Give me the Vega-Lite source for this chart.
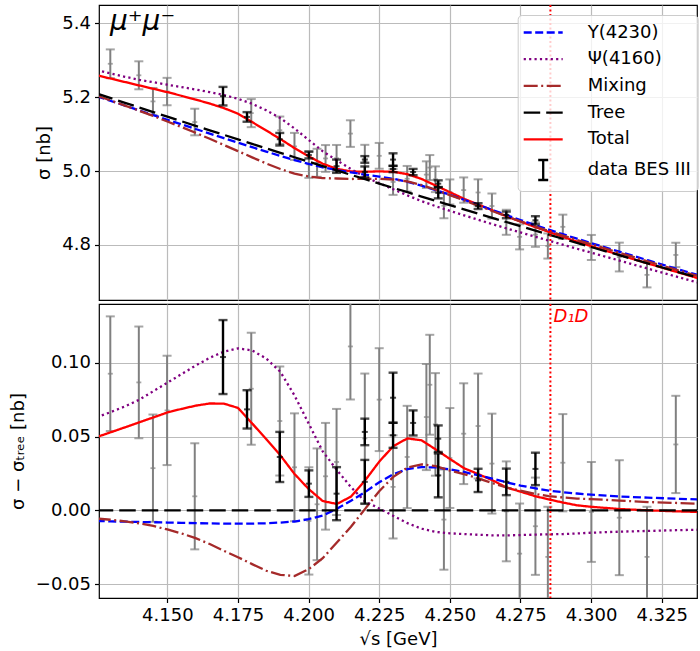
{
"$schema": "https://vega.github.io/schema/vega-lite/v6.json",
"padding": {"left": 8, "top": 3, "right": 0, "bottom": 0},
"spacing": 0,
"config": {
 "font": "DejaVu Sans",
 "view": {"stroke": "#000000", "strokeWidth": 1.2},
 "axis": {"domain": false, "gridColor": "#bbbbbb", "gridWidth": 1.2, "labelFontSize": 18, "titleFontSize": 18, "titleFontWeight": "normal", "labelColor": "#000000", "titleColor": "#000000", "tickColor": "#000000", "tickSize": 4.5, "tickWidth": 1.2, "labelPadding": 4}
},
"datasets": {
 "thr": [{"s": 4.2856, "label": "D₁D"}],
 "proc": [{"label": "μ⁺μ⁻"}],
 "curves": [
{"s":4.125,"c":"Total","t":5.2597,"d":0.0497},{"s":4.130,"c":"Total","t":5.2503,"d":0.0530},{"s":4.135,"c":"Total","t":5.2411,"d":0.0563},{"s":4.140,"c":"Total","t":5.2319,"d":0.0597},{"s":4.145,"c":"Total","t":5.2228,"d":0.0630},{"s":4.150,"c":"Total","t":5.2137,"d":0.0664},{"s":4.155,"c":"Total","t":5.2038,"d":0.0688},{"s":4.160,"c":"Total","t":5.1936,"d":0.0710},{"s":4.165,"c":"Total","t":5.1828,"d":0.0725},{"s":4.170,"c":"Total","t":5.1705,"d":0.0724},{"s":4.175,"c":"Total","t":5.1554,"d":0.0695},{"s":4.180,"c":"Total","t":5.1327,"d":0.0590},{"s":4.185,"c":"Total","t":5.1099,"d":0.0483},{"s":4.190,"c":"Total","t":5.0868,"d":0.0373},{"s":4.195,"c":"Total","t":5.0622,"d":0.0247},{"s":4.200,"c":"Total","t":5.0400,"d":0.0145},{"s":4.205,"c":"Total","t":5.0199,"d":0.0063},{"s":4.210,"c":"Total","t":5.0060,"d":0.0043},{"s":4.215,"c":"Total","t":4.9991,"d":0.0093},{"s":4.220,"c":"Total","t":4.9983,"d":0.0203},{"s":4.225,"c":"Total","t":4.9992,"d":0.0330},{"s":4.230,"c":"Total","t":4.9981,"d":0.0436},{"s":4.235,"c":"Total","t":4.9916,"d":0.0488},{"s":4.240,"c":"Total","t":4.9786,"d":0.0475},{"s":4.245,"c":"Total","t":4.9608,"d":0.0413},{"s":4.250,"c":"Total","t":4.9429,"d":0.0349},{"s":4.255,"c":"Total","t":4.9250,"d":0.0286},{"s":4.260,"c":"Total","t":4.9095,"d":0.0246},{"s":4.265,"c":"Total","t":4.8940,"d":0.0205},{"s":4.270,"c":"Total","t":4.8776,"d":0.0155},{"s":4.275,"c":"Total","t":4.8634,"d":0.0127},{"s":4.280,"c":"Total","t":4.8491,"d":0.0097},{"s":4.285,"c":"Total","t":4.8355,"d":0.0074},{"s":4.290,"c":"Total","t":4.8221,"d":0.0053},{"s":4.295,"c":"Total","t":4.8090,"d":0.0034},{"s":4.300,"c":"Total","t":4.7969,"d":0.0024},{"s":4.310,"c":"Total","t":4.7732,"d":0.0009},{"s":4.320,"c":"Total","t":4.7502,"d":0.0000},{"s":4.330,"c":"Total","t":4.7276,"d":-0.0007},{"s":4.340,"c":"Total","t":4.7054,"d":-0.0012},
{"s":4.125,"c":"Ψ(4160)","t":5.2732,"d":0.0632},{"s":4.130,"c":"Ψ(4160)","t":5.2640,"d":0.0667},{"s":4.135,"c":"Ψ(4160)","t":5.2553,"d":0.0705},{"s":4.140,"c":"Ψ(4160)","t":5.2472,"d":0.0750},{"s":4.145,"c":"Ψ(4160)","t":5.2406,"d":0.0808},{"s":4.150,"c":"Ψ(4160)","t":5.2339,"d":0.0866},{"s":4.155,"c":"Ψ(4160)","t":5.2274,"d":0.0924},{"s":4.160,"c":"Ψ(4160)","t":5.2208,"d":0.0982},{"s":4.165,"c":"Ψ(4160)","t":5.2138,"d":0.1035},{"s":4.170,"c":"Ψ(4160)","t":5.2057,"d":0.1076},{"s":4.175,"c":"Ψ(4160)","t":5.1958,"d":0.1099},{"s":4.180,"c":"Ψ(4160)","t":5.1822,"d":0.1085},{"s":4.185,"c":"Ψ(4160)","t":5.1646,"d":0.1030},{"s":4.190,"c":"Ψ(4160)","t":5.1435,"d":0.0940},{"s":4.195,"c":"Ψ(4160)","t":5.1155,"d":0.0780},{"s":4.200,"c":"Ψ(4160)","t":5.0845,"d":0.0590},{"s":4.205,"c":"Ψ(4160)","t":5.0536,"d":0.0400},{"s":4.210,"c":"Ψ(4160)","t":5.0291,"d":0.0274},{"s":4.215,"c":"Ψ(4160)","t":5.0055,"d":0.0157},{"s":4.220,"c":"Ψ(4160)","t":4.9840,"d":0.0060},{"s":4.225,"c":"Ψ(4160)","t":4.9675,"d":0.0013},{"s":4.230,"c":"Ψ(4160)","t":4.9507,"d":-0.0038},{"s":4.235,"c":"Ψ(4160)","t":4.9341,"d":-0.0087},{"s":4.240,"c":"Ψ(4160)","t":4.9186,"d":-0.0125},{"s":4.245,"c":"Ψ(4160)","t":4.9049,"d":-0.0146},{"s":4.250,"c":"Ψ(4160)","t":4.8924,"d":-0.0156},{"s":4.255,"c":"Ψ(4160)","t":4.8803,"d":-0.0161},{"s":4.260,"c":"Ψ(4160)","t":4.8683,"d":-0.0166},{"s":4.265,"c":"Ψ(4160)","t":4.8565,"d":-0.0170},{"s":4.270,"c":"Ψ(4160)","t":4.8451,"d":-0.0170},{"s":4.275,"c":"Ψ(4160)","t":4.8339,"d":-0.0168},{"s":4.280,"c":"Ψ(4160)","t":4.8229,"d":-0.0165},{"s":4.285,"c":"Ψ(4160)","t":4.8118,"d":-0.0163},{"s":4.290,"c":"Ψ(4160)","t":4.8007,"d":-0.0161},{"s":4.295,"c":"Ψ(4160)","t":4.7899,"d":-0.0157},{"s":4.300,"c":"Ψ(4160)","t":4.7793,"d":-0.0152},{"s":4.310,"c":"Ψ(4160)","t":4.7578,"d":-0.0145},{"s":4.320,"c":"Ψ(4160)","t":4.7362,"d":-0.0140},{"s":4.330,"c":"Ψ(4160)","t":4.7148,"d":-0.0135},{"s":4.340,"c":"Ψ(4160)","t":4.6935,"d":-0.0131},
{"s":4.125,"c":"Y(4230)","t":5.2028,"d":-0.0072},{"s":4.130,"c":"Y(4230)","t":5.1898,"d":-0.0075},{"s":4.135,"c":"Y(4230)","t":5.1771,"d":-0.0077},{"s":4.140,"c":"Y(4230)","t":5.1643,"d":-0.0079},{"s":4.145,"c":"Y(4230)","t":5.1517,"d":-0.0081},{"s":4.150,"c":"Y(4230)","t":5.1390,"d":-0.0083},{"s":4.155,"c":"Y(4230)","t":5.1265,"d":-0.0085},{"s":4.160,"c":"Y(4230)","t":5.1139,"d":-0.0087},{"s":4.165,"c":"Y(4230)","t":5.1014,"d":-0.0089},{"s":4.170,"c":"Y(4230)","t":5.0891,"d":-0.0090},{"s":4.175,"c":"Y(4230)","t":5.0769,"d":-0.0090},{"s":4.180,"c":"Y(4230)","t":5.0647,"d":-0.0090},{"s":4.185,"c":"Y(4230)","t":5.0528,"d":-0.0088},{"s":4.190,"c":"Y(4230)","t":5.0412,"d":-0.0083},{"s":4.195,"c":"Y(4230)","t":5.0299,"d":-0.0076},{"s":4.200,"c":"Y(4230)","t":5.0195,"d":-0.0060},{"s":4.205,"c":"Y(4230)","t":5.0101,"d":-0.0035},{"s":4.210,"c":"Y(4230)","t":5.0027,"d":0.0010},{"s":4.215,"c":"Y(4230)","t":4.9963,"d":0.0065},{"s":4.220,"c":"Y(4230)","t":4.9904,"d":0.0124},{"s":4.225,"c":"Y(4230)","t":4.9852,"d":0.0190},{"s":4.230,"c":"Y(4230)","t":4.9790,"d":0.0245},{"s":4.235,"c":"Y(4230)","t":4.9708,"d":0.0280},{"s":4.240,"c":"Y(4230)","t":4.9604,"d":0.0293},{"s":4.245,"c":"Y(4230)","t":4.9486,"d":0.0291},{"s":4.250,"c":"Y(4230)","t":4.9358,"d":0.0278},{"s":4.255,"c":"Y(4230)","t":4.9224,"d":0.0260},{"s":4.260,"c":"Y(4230)","t":4.9087,"d":0.0238},{"s":4.265,"c":"Y(4230)","t":4.8950,"d":0.0215},{"s":4.270,"c":"Y(4230)","t":4.8811,"d":0.0190},{"s":4.275,"c":"Y(4230)","t":4.8675,"d":0.0168},{"s":4.280,"c":"Y(4230)","t":4.8544,"d":0.0150},{"s":4.285,"c":"Y(4230)","t":4.8415,"d":0.0134},{"s":4.290,"c":"Y(4230)","t":4.8291,"d":0.0123},{"s":4.295,"c":"Y(4230)","t":4.8170,"d":0.0114},{"s":4.300,"c":"Y(4230)","t":4.8051,"d":0.0106},{"s":4.310,"c":"Y(4230)","t":4.7817,"d":0.0094},{"s":4.320,"c":"Y(4230)","t":4.7588,"d":0.0086},{"s":4.330,"c":"Y(4230)","t":4.7362,"d":0.0079},{"s":4.340,"c":"Y(4230)","t":4.7138,"d":0.0072},
{"s":4.125,"c":"Mixing","t":5.2044,"d":-0.0056},{"s":4.130,"c":"Mixing","t":5.1909,"d":-0.0064},{"s":4.135,"c":"Mixing","t":5.1773,"d":-0.0075},{"s":4.140,"c":"Mixing","t":5.1634,"d":-0.0088},{"s":4.145,"c":"Mixing","t":5.1492,"d":-0.0106},{"s":4.150,"c":"Mixing","t":5.1343,"d":-0.0130},{"s":4.155,"c":"Mixing","t":5.1193,"d":-0.0157},{"s":4.160,"c":"Mixing","t":5.1037,"d":-0.0189},{"s":4.165,"c":"Mixing","t":5.0874,"d":-0.0229},{"s":4.170,"c":"Mixing","t":5.0706,"d":-0.0275},{"s":4.175,"c":"Mixing","t":5.0541,"d":-0.0318},{"s":4.180,"c":"Mixing","t":5.0372,"d":-0.0365},{"s":4.185,"c":"Mixing","t":5.0206,"d":-0.0410},{"s":4.190,"c":"Mixing","t":5.0057,"d":-0.0438},{"s":4.195,"c":"Mixing","t":4.9929,"d":-0.0446},{"s":4.200,"c":"Mixing","t":4.9855,"d":-0.0400},{"s":4.205,"c":"Mixing","t":4.9811,"d":-0.0325},{"s":4.210,"c":"Mixing","t":4.9799,"d":-0.0218},{"s":4.215,"c":"Mixing","t":4.9786,"d":-0.0112},{"s":4.220,"c":"Mixing","t":4.9790,"d":0.0010},{"s":4.225,"c":"Mixing","t":4.9792,"d":0.0130},{"s":4.230,"c":"Mixing","t":4.9772,"d":0.0227},{"s":4.235,"c":"Mixing","t":4.9718,"d":0.0290},{"s":4.240,"c":"Mixing","t":4.9623,"d":0.0312},{"s":4.245,"c":"Mixing","t":4.9495,"d":0.0300},{"s":4.250,"c":"Mixing","t":4.9350,"d":0.0270},{"s":4.255,"c":"Mixing","t":4.9210,"d":0.0246},{"s":4.260,"c":"Mixing","t":4.9066,"d":0.0217},{"s":4.265,"c":"Mixing","t":4.8920,"d":0.0185},{"s":4.270,"c":"Mixing","t":4.8776,"d":0.0155},{"s":4.275,"c":"Mixing","t":4.8640,"d":0.0133},{"s":4.280,"c":"Mixing","t":4.8506,"d":0.0112},{"s":4.285,"c":"Mixing","t":4.8377,"d":0.0096},{"s":4.290,"c":"Mixing","t":4.8255,"d":0.0087},{"s":4.295,"c":"Mixing","t":4.8136,"d":0.0080},{"s":4.300,"c":"Mixing","t":4.8021,"d":0.0076},{"s":4.310,"c":"Mixing","t":4.7789,"d":0.0066},{"s":4.320,"c":"Mixing","t":4.7558,"d":0.0056},{"s":4.330,"c":"Mixing","t":4.7333,"d":0.0050},{"s":4.340,"c":"Mixing","t":4.7110,"d":0.0044},
{"s":4.125,"c":"Tree","t":5.2100,"d":0},{"s":4.130,"c":"Tree","t":5.1973,"d":0},{"s":4.135,"c":"Tree","t":5.1848,"d":0},{"s":4.140,"c":"Tree","t":5.1722,"d":0},{"s":4.145,"c":"Tree","t":5.1598,"d":0},{"s":4.150,"c":"Tree","t":5.1473,"d":0},{"s":4.155,"c":"Tree","t":5.1350,"d":0},{"s":4.160,"c":"Tree","t":5.1226,"d":0},{"s":4.165,"c":"Tree","t":5.1103,"d":0},{"s":4.170,"c":"Tree","t":5.0981,"d":0},{"s":4.175,"c":"Tree","t":5.0859,"d":0},{"s":4.180,"c":"Tree","t":5.0737,"d":0},{"s":4.185,"c":"Tree","t":5.0616,"d":0},{"s":4.190,"c":"Tree","t":5.0495,"d":0},{"s":4.195,"c":"Tree","t":5.0375,"d":0},{"s":4.200,"c":"Tree","t":5.0255,"d":0},{"s":4.205,"c":"Tree","t":5.0136,"d":0},{"s":4.210,"c":"Tree","t":5.0017,"d":0},{"s":4.215,"c":"Tree","t":4.9898,"d":0},{"s":4.220,"c":"Tree","t":4.9780,"d":0},{"s":4.225,"c":"Tree","t":4.9662,"d":0},{"s":4.230,"c":"Tree","t":4.9545,"d":0},{"s":4.235,"c":"Tree","t":4.9428,"d":0},{"s":4.240,"c":"Tree","t":4.9311,"d":0},{"s":4.245,"c":"Tree","t":4.9195,"d":0},{"s":4.250,"c":"Tree","t":4.9080,"d":0},{"s":4.255,"c":"Tree","t":4.8964,"d":0},{"s":4.260,"c":"Tree","t":4.8849,"d":0},{"s":4.265,"c":"Tree","t":4.8735,"d":0},{"s":4.270,"c":"Tree","t":4.8621,"d":0},{"s":4.275,"c":"Tree","t":4.8507,"d":0},{"s":4.280,"c":"Tree","t":4.8394,"d":0},{"s":4.285,"c":"Tree","t":4.8281,"d":0},{"s":4.290,"c":"Tree","t":4.8168,"d":0},{"s":4.295,"c":"Tree","t":4.8056,"d":0},{"s":4.300,"c":"Tree","t":4.7945,"d":0},{"s":4.310,"c":"Tree","t":4.7723,"d":0},{"s":4.320,"c":"Tree","t":4.7502,"d":0},{"s":4.330,"c":"Tree","t":4.7283,"d":0},{"s":4.340,"c":"Tree","t":4.7066,"d":0}
 ],
 "gray": [
{"s":4.1298,"t":5.2905,"d":0.0927,"e":0.0389},{"s":4.1399,"t":5.2593,"d":0.0868,"e":0.0379},{"s":4.1449,"t":5.1886,"d":0.0286,"e":0.0364},{"s":4.1499,"t":5.2153,"d":0.0678,"e":0.0371},{"s":4.1597,"t":5.1328,"d":0.0095,"e":0.0360},{"s":4.1797,"t":5.1569,"d":0.0825,"e":0.0380},{"s":4.1898,"t":5.1106,"d":0.0606,"e":0.0370},{"s":4.1950,"t":5.0668,"d":0.0292,"e":0.0366},{"s":4.2001,"t":5.0180,"d":-0.0072,"e":0.0364},{"s":4.2030,"t":5.0224,"d":0.0041,"e":0.0379},{"s":4.2060,"t":5.0342,"d":0.0231,"e":0.0362},{"s":4.2099,"t":5.0347,"d":0.0328,"e":0.0360},{"s":4.2148,"t":5.1015,"d":0.1112,"e":0.0360},{"s":4.2199,"t":5.0271,"d":0.0488,"e":0.0440},{"s":4.2250,"t":5.0413,"d":0.0751,"e":0.0349},{"s":4.2299,"t":4.9706,"d":0.0159,"e":0.0350},{"s":4.2349,"t":4.9792,"d":0.0362,"e":0.0347},{"s":4.2417,"t":4.9904,"d":0.0633,"e":0.0360},{"s":4.2429,"t":5.0095,"d":0.0852,"e":0.0339},{"s":4.2449,"t":4.9779,"d":0.0583,"e":0.0348},{"s":4.2479,"t":4.9063,"d":-0.0063,"e":0.0340},{"s":4.2500,"t":4.9435,"d":0.0355,"e":0.0339},{"s":4.2549,"t":4.9486,"d":0.0520,"e":0.0342},{"s":4.2600,"t":4.9421,"d":0.0572,"e":0.0356},{"s":4.2649,"t":4.9054,"d":0.0317,"e":0.0339},{"s":4.2700,"t":4.8614,"d":-0.0007,"e":0.0339},{"s":4.2747,"t":4.8220,"d":-0.0294,"e":0.0340},{"s":4.2803,"t":4.8279,"d":-0.0108,"e":0.0330},{"s":4.2847,"t":4.7972,"d":-0.0316,"e":0.0340},{"s":4.2900,"t":4.8491,"d":0.0323,"e":0.0330},{"s":4.3001,"t":4.7932,"d":-0.0011,"e":0.0339},{"s":4.3100,"t":4.7673,"d":-0.0050,"e":0.0390},{"s":4.3198,"t":4.7191,"d":-0.0316,"e":0.0340},{"s":4.3300,"t":4.7730,"d":0.0447,"e":0.0330}
 ],
 "black": [
{"s":4.1697,"t":5.2028,"d":0.1040,"e":0.0251},{"s":4.1782,"t":5.1466,"d":0.0685,"e":0.0130},{"s":4.1898,"t":5.0862,"d":0.0362,"e":0.0170},{"s":4.2001,"t":5.0433,"d":0.0181,"e":0.0090},{"s":4.2099,"t":5.0132,"d":0.0113,"e":0.0180},{"s":4.2199,"t":5.0315,"d":0.0532,"e":0.0090},{"s":4.2199,"t":4.9976,"d":0.0193,"e":0.0149},{"s":4.2299,"t":5.0311,"d":0.0764,"e":0.0170},{"s":4.2299,"t":5.0056,"d":0.0509,"e":0.0085},{"s":4.2370,"t":4.9974,"d":0.0593,"e":0.0085},{"s":4.2459,"t":4.9659,"d":0.0486,"e":0.0090},{"s":4.2459,"t":4.9410,"d":0.0237,"e":0.0149},{"s":4.2600,"t":4.9052,"d":0.0203,"e":0.0079},{"s":4.2700,"t":4.8814,"d":0.0193,"e":0.0090},{"s":4.2803,"t":4.8668,"d":0.0281,"e":0.0110}
 ]
},
"resolve": {"scale": {"color": "independent", "strokeDash": "independent"}, "legend": {"color": "independent", "strokeDash": "independent"}},
"vconcat": [
 {
  "width": 598, "height": 295,
  "layer": [
   {"data": {"name": "gray"},
    "mark": {"type": "errorbar", "color": "#808080", "rule": {"strokeWidth": 2, "color": "#808080", "clip": true}, "ticks": {"size": 9, "thickness": 2, "color": "#808080", "clip": true}},
    "encoding": {
     "x": {"field": "s", "type": "quantitative", "scale": {"domain": [4.1258, 4.3375], "nice": false, "zero": false}, "axis": {"values": [4.15, 4.175, 4.2, 4.225, 4.25, 4.275, 4.3, 4.325], "labels": false, "ticks": false, "title": null, "minExtent": 0, "maxExtent": 0}},
     "y": {"field": "t", "type": "quantitative", "title": "σ [nb]", "scale": {"domain": [4.651, 5.4496], "nice": false, "zero": false}, "axis": {"values": [4.8, 5.0, 5.2, 5.4], "format": ".1f", "titlePadding": 8}},
     "yError": {"field": "e"}
    }},
   {"data": {"name": "gray"},
    "mark": {"type": "point", "shape": "stroke", "size": 25, "color": "#808080", "strokeWidth": 1.8, "clip": true},
    "encoding": {"x": {"field": "s", "type": "quantitative"}, "y": {"field": "t", "type": "quantitative", "title": "σ [nb]"}}},
   {"data": {"name": "curves"},
    "mark": {"type": "line", "strokeWidth": 2.3, "clip": true},
    "encoding": {
     "x": {"field": "s", "type": "quantitative"},
     "y": {"field": "t", "type": "quantitative", "title": "σ [nb]"},
     "color": {"field": "c", "type": "nominal", "scale": {"domain": ["Y(4230)", "Ψ(4160)", "Mixing", "Tree", "Total", "data BES III"], "range": ["#0000ff", "#800080", "#a52a2a", "#000000", "#ff0000", "#000000"]},
      "legend": {"orient": "none", "legendX": 418.7, "legendY": 10, "title": null, "labelFontSize": 18, "labelColor": "#000000", "symbolSize": 400, "symbolStrokeWidth": 2.3, "symbolOffset": 8, "labelOffset": 33, "padding": 6, "rowPadding": 5.7, "fillColor": "rgba(255,255,255,0.8)", "strokeColor": "#cccccc", "cornerRadius": 4,
       "encode": {"symbols": {"update": {"shape": {"signal": "datum.value === 'data BES III' ? 'M0,-1L0,1M-0.5,-1L0.5,-1M-0.5,1L0.5,1' : 'M-1.95,0L1.95,0'"}}}}}},
     "strokeDash": {"field": "c", "type": "nominal", "scale": {"domain": ["Y(4230)", "Ψ(4160)", "Mixing", "Tree", "Total", "data BES III"], "range": [[8, 3.5], [2.2, 3.2], [14, 3.5, 2, 3.5], [16.5, 6], [1, 0], [1, 0]]},
      "legend": {"orient": "none", "legendX": 418.7, "legendY": 10, "title": null}}
    }},
   {"data": {"name": "black"},
    "mark": {"type": "errorbar", "color": "#000000", "rule": {"strokeWidth": 2.4, "color": "#000000", "clip": true}, "ticks": {"size": 9, "thickness": 2.4, "color": "#000000", "clip": true}},
    "encoding": {"x": {"field": "s", "type": "quantitative"}, "y": {"field": "t", "type": "quantitative", "title": "σ [nb]"}, "yError": {"field": "e"}}},
   {"data": {"name": "black"},
    "mark": {"type": "point", "shape": "stroke", "size": 36, "color": "#000000", "strokeWidth": 2, "clip": true},
    "encoding": {"x": {"field": "s", "type": "quantitative"}, "y": {"field": "t", "type": "quantitative", "title": "σ [nb]"}}},
   {"data": {"name": "thr"},
    "mark": {"type": "rule", "color": "#ff0000", "strokeDash": [2, 2.5], "strokeWidth": 2},
    "encoding": {"x": {"field": "s", "type": "quantitative"}}},
   {"data": {"name": "proc"},
    "mark": {"type": "text", "fontSize": 28, "fontStyle": "italic", "align": "left", "baseline": "alphabetic", "color": "#000000"},
    "encoding": {"text": {"field": "label"}, "x": {"datum": 4.1297}, "y": {"datum": 5.381}}}
  ]
 },
 {
  "width": 598, "height": 294,
  "layer": [
   {"data": {"name": "gray"},
    "mark": {"type": "errorbar", "color": "#808080", "rule": {"strokeWidth": 2, "color": "#808080", "clip": true}, "ticks": {"size": 9, "thickness": 2, "color": "#808080", "clip": true}},
    "encoding": {
     "x": {"field": "s", "type": "quantitative", "title": "√s [GeV]", "scale": {"domain": [4.1258, 4.3375], "nice": false, "zero": false}, "axis": {"values": [4.15, 4.175, 4.2, 4.225, 4.25, 4.275, 4.3, 4.325], "format": ".3f", "titlePadding": 6}},
     "y": {"field": "d", "type": "quantitative", "title": "σ − σₜᵣₑₑ [nb]", "scale": {"domain": [-0.0595, 0.14], "nice": false, "zero": false}, "axis": {"values": [-0.05, 0, 0.05, 0.1], "format": ".2f", "titlePadding": 8}},
     "yError": {"field": "e"}
    }},
   {"data": {"name": "gray"},
    "mark": {"type": "point", "shape": "stroke", "size": 25, "color": "#808080", "strokeWidth": 1.8, "clip": true},
    "encoding": {"x": {"field": "s", "type": "quantitative", "title": "√s [GeV]"}, "y": {"field": "d", "type": "quantitative", "title": "σ − σₜᵣₑₑ [nb]"}}},
   {"data": {"name": "curves"},
    "mark": {"type": "line", "strokeWidth": 2.3, "clip": true},
    "encoding": {
     "x": {"field": "s", "type": "quantitative", "title": "√s [GeV]"},
     "y": {"field": "d", "type": "quantitative", "title": "σ − σₜᵣₑₑ [nb]"},
     "color": {"field": "c", "type": "nominal", "scale": {"domain": ["Y(4230)", "Ψ(4160)", "Mixing", "Tree", "Total", "data BES III"], "range": ["#0000ff", "#800080", "#a52a2a", "#000000", "#ff0000", "#000000"]}, "legend": null},
     "strokeDash": {"field": "c", "type": "nominal", "scale": {"domain": ["Y(4230)", "Ψ(4160)", "Mixing", "Tree", "Total", "data BES III"], "range": [[8, 3.5], [2.2, 3.2], [14, 3.5, 2, 3.5], [16.5, 6], [1, 0], [1, 0]]}, "legend": null}
    }},
   {"data": {"name": "black"},
    "mark": {"type": "errorbar", "color": "#000000", "rule": {"strokeWidth": 2.4, "color": "#000000", "clip": true}, "ticks": {"size": 9, "thickness": 2.4, "color": "#000000", "clip": true}},
    "encoding": {"x": {"field": "s", "type": "quantitative", "title": "√s [GeV]"}, "y": {"field": "d", "type": "quantitative", "title": "σ − σₜᵣₑₑ [nb]"}, "yError": {"field": "e"}}},
   {"data": {"name": "black"},
    "mark": {"type": "point", "shape": "stroke", "size": 36, "color": "#000000", "strokeWidth": 2, "clip": true},
    "encoding": {"x": {"field": "s", "type": "quantitative", "title": "√s [GeV]"}, "y": {"field": "d", "type": "quantitative", "title": "σ − σₜᵣₑₑ [nb]"}}},
   {"data": {"name": "thr"},
    "mark": {"type": "rule", "color": "#ff0000", "strokeDash": [2, 2.5], "strokeWidth": 2},
    "encoding": {"x": {"field": "s", "type": "quantitative", "title": "√s [GeV]"}}},
   {"data": {"name": "thr"},
    "mark": {"type": "text", "fontSize": 18, "fontStyle": "italic", "align": "left", "baseline": "alphabetic", "color": "#ff0000", "dx": 3},
    "encoding": {"text": {"field": "label"}, "x": {"field": "s", "type": "quantitative", "title": "√s [GeV]"}, "y": {"datum": 0.1277}}}
  ]
 }
]
}
